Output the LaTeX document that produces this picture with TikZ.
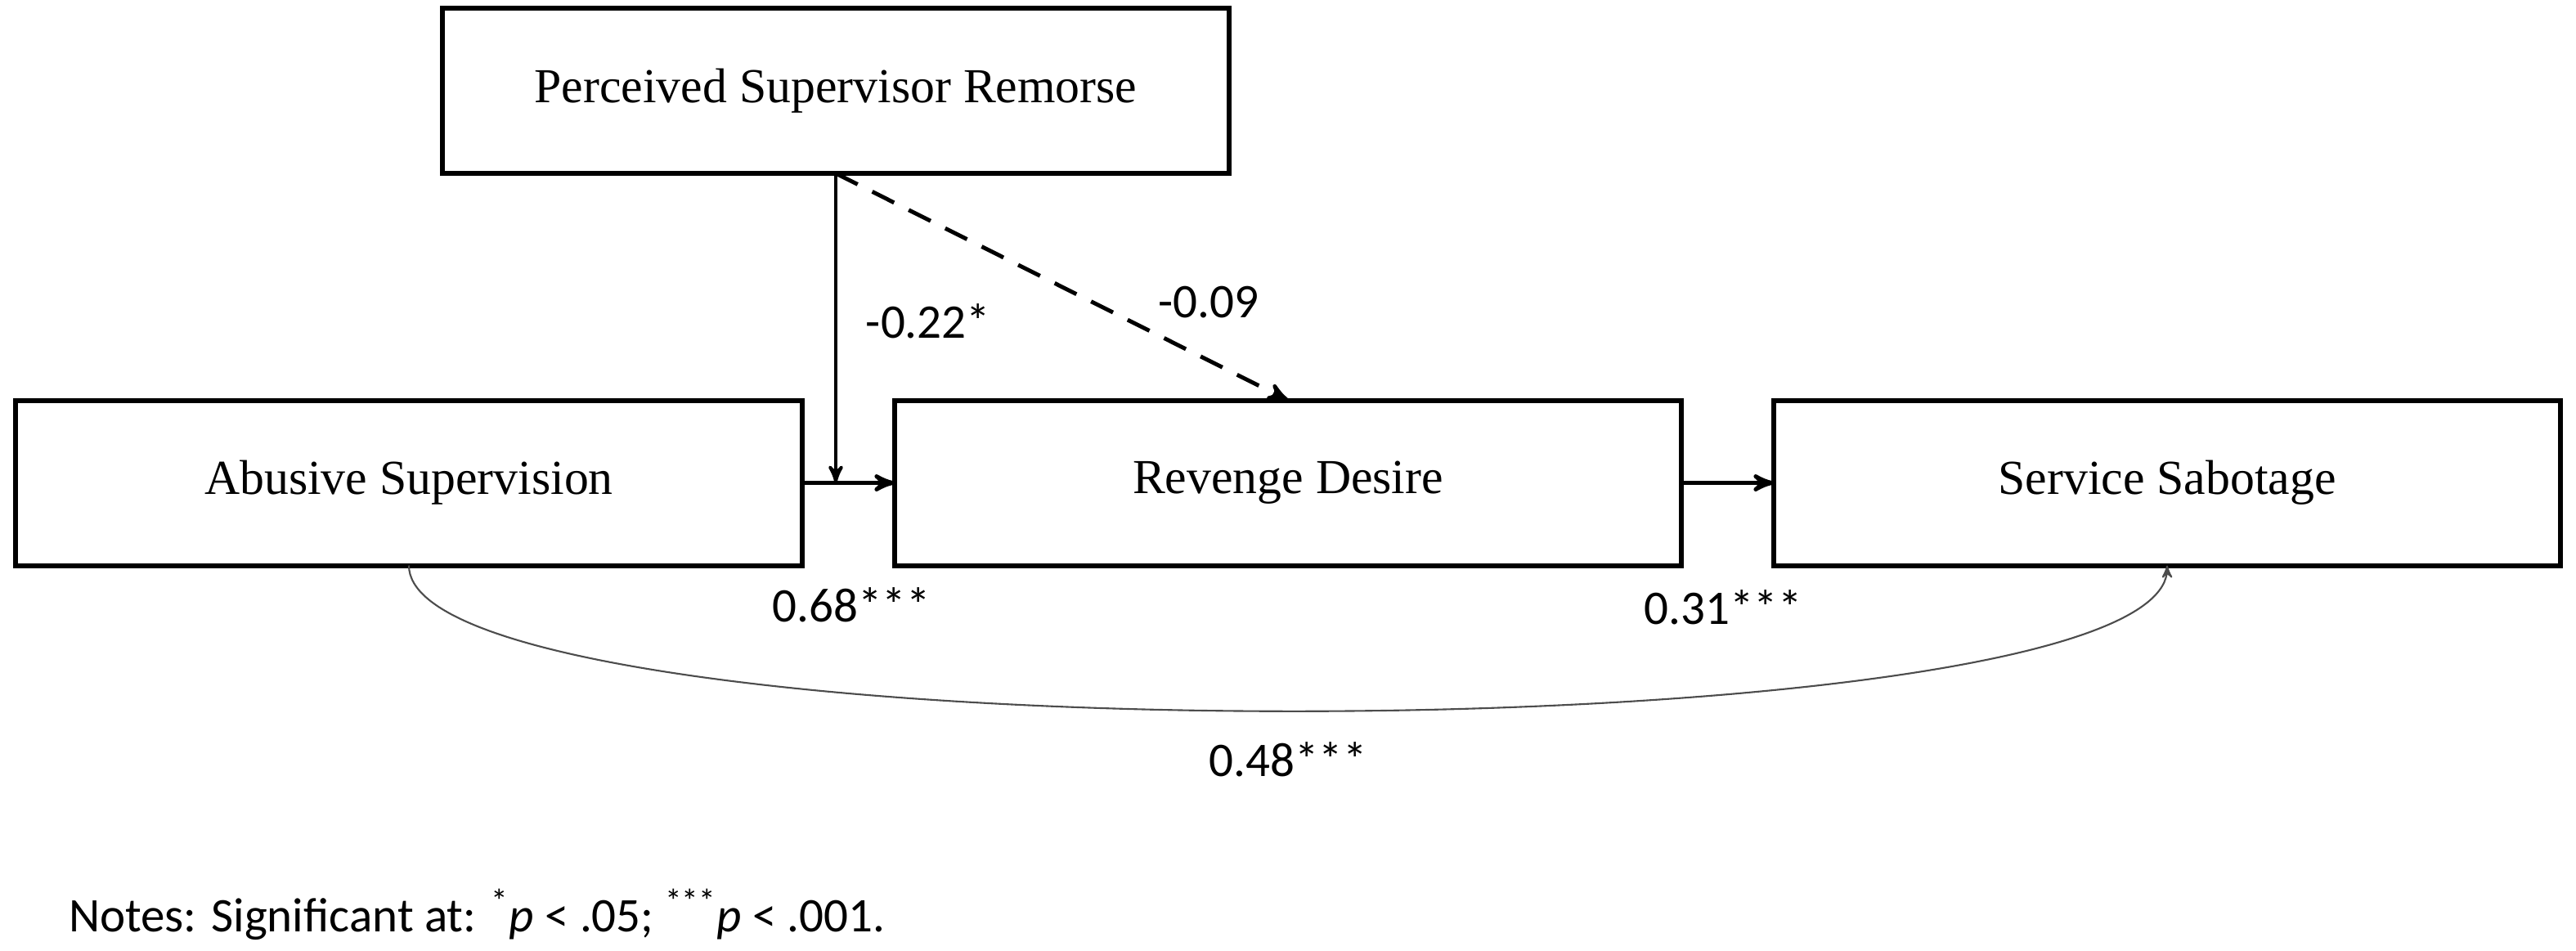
\documentclass[tikz,border=0pt]{standalone}
\usepackage{fontspec}
\setmainfont{Liberation Serif}
\newfontfamily\coeffont{Carlito}
\usetikzlibrary{arrows,positioning}

\begin{document}
\begin{tikzpicture}[->,>=stealth',semithick,node distance=1.13cm]
  \tikzstyle{construct}=[draw=black,line width=1.7pt,minimum width=9.62cm,minimum height=2.02cm,inner sep=0pt,outer sep=0pt,font=\fontsize{17}{20}\selectfont]
  \tikzstyle{coef}=[font=\coeffont\fontsize{16.8}{19}\selectfont]
  \tikzstyle{mainpath}=[line width=1.4pt]

  \useasboundingbox (0,0) rectangle (31.5,-11.62);

  \node[construct] (abuse)                  at (5.00,-5.905) {Abusive Supervision};
  \node[construct] (revenge) [right=of abuse]   {Revenge Desire};
  \node[construct] (sabotage) [right=of revenge] {Service Sabotage};
  \node[construct] (remorse)                at (10.22,-1.11) {Perceived Supervisor Remorse};

  \coordinate (meet) at (remorse.south |- abuse.east);

  \path
  (abuse) edge[mainpath] (revenge)
  (revenge) edge[mainpath] (sabotage)
  (remorse.south) edge[line width=1.1pt] (meet)
  edge[mainpath,dash pattern=on 8.5pt off 5.7pt] (revenge.north);

  \draw[black!70,line width=0.6pt] (abuse.south) .. controls +(0,-2.37) and +(0,-2.37) .. (sabotage.south);

  \node[coef] (modsig)  at (11.35,-3.93) {-0.22*};
  \node[coef] (modns)   at (14.78,-3.70) {-0.09};
  \node[coef] (apath)   at (10.41,-7.40) {0.68***};
  \node[coef] (bpath)   at (21.07,-7.43) {0.31***};
  \node[coef] (cpath)   at (15.75,-9.29) {0.48***};
  \node[coef,anchor=base west,inner sep=0pt] (note) at (0.83,-11.39)
    {Notes: Significant at: \textsuperscript{*}\textit{p} < .05; \textsuperscript{***}\textit{p} < .001.};
\end{tikzpicture}
\end{document}
